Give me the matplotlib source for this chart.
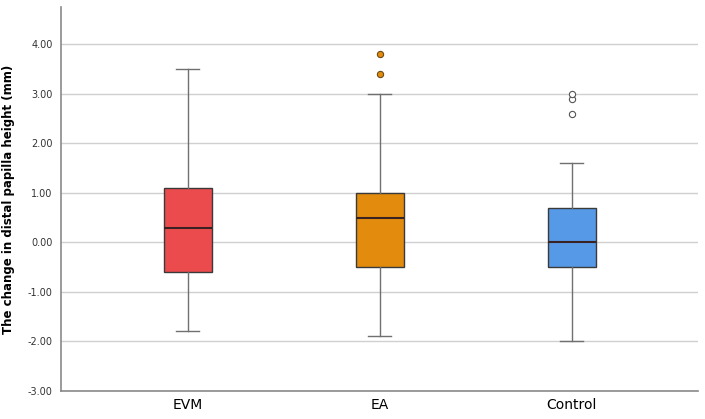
import matplotlib
matplotlib.use('Agg')
import matplotlib.pyplot as plt

groups = ['EVM', 'EA', 'Control']
whislo = [-1.8, -1.9, -2.0]
q1 = [-0.6, -0.5, -0.5]
med = [0.3, 0.5, 0.0]
q3 = [1.1, 1.0, 0.7]
whishi = [3.5, 3.0, 1.6]
fliers = [[], [3.4, 3.8], [2.6, 2.9, 3.0]]
colors = ['#EC4B4D', '#E38B0C', '#5699E6']
y_ticks = [-3, -2, -1, 0, 1, 2, 3, 4]


def _main() -> None:
    fig = plt.figure(figsize=(7.05, 4.19), dpi=100)
    ax = fig.add_axes([0.0865, 0.067, 0.904, 0.916])

    stats = []
    for i, name in enumerate(groups):
        stats.append({'label': name, 'whislo': whislo[i], 'q1': q1[i], 'med': med[i],
                      'q3': q3[i], 'whishi': whishi[i], 'fliers': []})

    bp = ax.bxp(stats, positions=range(len(groups)), widths=0.25, patch_artist=True,
                showfliers=False, zorder=3,
                boxprops=dict(edgecolor='#3a3a3a', linewidth=1.0),
                medianprops=dict(color='#3a2222', linewidth=1.5),
                whiskerprops=dict(color='#707070', linewidth=1.0),
                capprops=dict(color='#707070', linewidth=1.0),
                capwidths=0.12)
    for patch, c in zip(bp['boxes'], colors):
        patch.set_facecolor(c)

    # outliers drawn separately so each group gets its own marker style
    ax.plot([1] * len(fliers[1]), fliers[1], 'o', ms=4.5, mfc='#E38B0C', mec='#6b4a1a',
            mew=0.8, zorder=4)
    ax.plot([2] * len(fliers[2]), fliers[2], 'o', ms=4.5, mfc='white', mec='#555555',
            mew=0.8, zorder=4)

    ax.set_xlim(-0.66, 2.66)
    ax.set_ylim(-3, 4.75)
    ax.set_yticks(y_ticks)
    ax.set_yticklabels([f'{v:.2f}' for v in y_ticks], fontsize=7, color='#333333')
    ax.set_xticks(range(len(groups)))
    ax.set_xticklabels(groups, fontsize=10)
    ax.tick_params(axis='both', length=0)
    ax.tick_params(axis='y', pad=6)
    ax.tick_params(axis='x', pad=5)
    ax.grid(axis='y', color='#d0d0d0', linewidth=1.0, zorder=0)
    ax.set_axisbelow(True)
    for s in ['top', 'right']:
        ax.spines[s].set_visible(False)
    for s in ['left', 'bottom']:
        ax.spines[s].set_color('#8a8a8a')
        ax.spines[s].set_linewidth(1.2)
    ax.set_ylabel('The change in distal papilla height (mm)', fontsize=8.5,
                  fontweight='bold', labelpad=9)

    fig.savefig('out.png', dpi=100)


if __name__ == '__main__':
    _main()
